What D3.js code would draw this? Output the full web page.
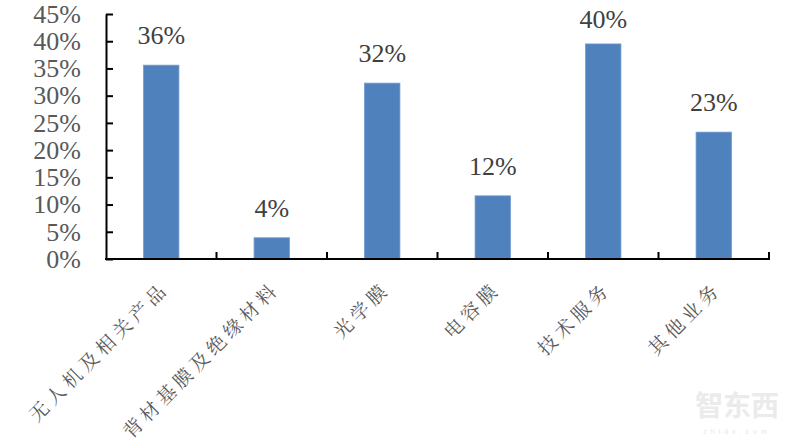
<!DOCTYPE html>
<html>
<head>
<meta charset="utf-8">
<script src="https://cdn.jsdelivr.net/npm/d3@7"></script>
<style>
  body { margin: 0; background: #fff; }
</style>
</head>
<body>
<div id="chart"></div>
<script>
const categories = ['无人机及相关产品', '背材基膜及绝缘材料', '光学膜', '电容膜', '技术服务', '其他业务'];
const values = [0.356, 0.039, 0.323, 0.116, 0.395, 0.233];
const yTicks = [0, 0.05, 0.10, 0.15, 0.20, 0.25, 0.30, 0.35, 0.40, 0.45];

const width = 800, height = 446;
const margin = { top: 14, left: 106, right: 31, bottom: 187 };
const serif = '"Liberation Serif"';
const cjk = '"Noto Serif CJK SC"';

const svg = d3.select('#chart').append('svg')
  .attr('width', width)
  .attr('height', height);

const x = d3.scaleBand()
  .domain(categories)
  .range([margin.left, width - margin.right])
  .paddingInner(0.68)
  .paddingOuter(0.34);

const y = d3.scaleLinear()
  .domain([0, 0.45])
  .range([height - margin.bottom, margin.top]);

// bars
svg.selectAll('rect.bar')
  .data(values)
  .enter()
  .append('rect')
  .attr('class', 'bar')
  .attr('x', (d, i) => x(categories[i]))
  .attr('y', d => y(d))
  .attr('width', x.bandwidth())
  .attr('height', d => y(0) - y(d))
  .attr('fill', '#4f81bd')
  .attr('stroke', '#6f9bd0')
  .attr('stroke-width', 0.8);

// value labels (kept inside the top of the plot)
svg.selectAll('text.val')
  .data(values)
  .enter()
  .append('text')
  .attr('class', 'val')
  .attr('x', (d, i) => x(categories[i]) + x.bandwidth() / 2)
  .attr('y', d => Math.max(y(d) - 21, 28))
  .attr('text-anchor', 'middle')
  .style('font-family', serif)
  .style('font-size', '26px')
  .attr('fill', '#404040')
  .text(d => Math.round(d * 100) + '%');

// y axis
const yAxis = d3.axisLeft(y)
  .tickValues(yTicks)
  .tickSize(-7)
  .tickSizeOuter(0)
  .tickPadding(25)
  .tickFormat(d => Math.round(d * 100) + '%');

const gy = svg.append('g')
  .attr('transform', `translate(${margin.left},0)`)
  .call(yAxis);
gy.select('.domain').attr('stroke', '#000').attr('stroke-width', 2);
gy.selectAll('.tick line').attr('stroke', '#000').attr('stroke-width', 2);
gy.selectAll('.tick text')
  .style('font-family', serif)
  .style('font-size', '26px')
  .attr('fill', '#595959');

// x axis with ticks at band boundaries
const xAxisLine = svg.append('g');
xAxisLine.append('line')
  .attr('x1', margin.left - 1)
  .attr('x2', width - margin.right + 1)
  .attr('y1', y(0))
  .attr('y2', y(0))
  .attr('stroke', '#000')
  .attr('stroke-width', 2);

const step = x.step();
const bounds = d3.range(1, categories.length + 1).map(i => margin.left + i * step);
xAxisLine.selectAll('line.xt')
  .data(bounds)
  .enter()
  .append('line')
  .attr('class', 'xt')
  .attr('x1', d => d)
  .attr('x2', d => d)
  .attr('y1', y(0))
  .attr('y2', y(0) - 7)
  .attr('stroke', '#000')
  .attr('stroke-width', 2);

// category labels, rotated
svg.selectAll('text.cat')
  .data(categories)
  .enter()
  .append('text')
  .attr('class', 'cat')
  .attr('transform', d => `translate(${x(d) + x.bandwidth() / 2 + 9},${y(0) + 31}) rotate(-45)`)
  .attr('text-anchor', 'end')
  .style('font-family', cjk)
  .style('font-size', '19px')
  .style('letter-spacing', '4.5px')
  .attr('fill', '#595959')
  .text(d => d);

// watermark
svg.append('text')
  .attr('x', 737)
  .attr('y', 416)
  .attr('text-anchor', 'middle')
  .style('font-family', '"Noto Sans CJK SC"')
  .style('font-size', '28px')
  .style('font-weight', 'bold')
  .attr('fill', '#ebebeb')
  .text('智东西');
svg.append('text')
  .attr('x', 737)
  .attr('y', 434)
  .attr('text-anchor', 'middle')
  .style('font-family', '"Liberation Sans"')
  .style('font-size', '7px')
  .style('letter-spacing', '4px')
  .attr('fill', '#e6e6e6')
  .text('zhidx.com');
</script>
</body>
</html>
